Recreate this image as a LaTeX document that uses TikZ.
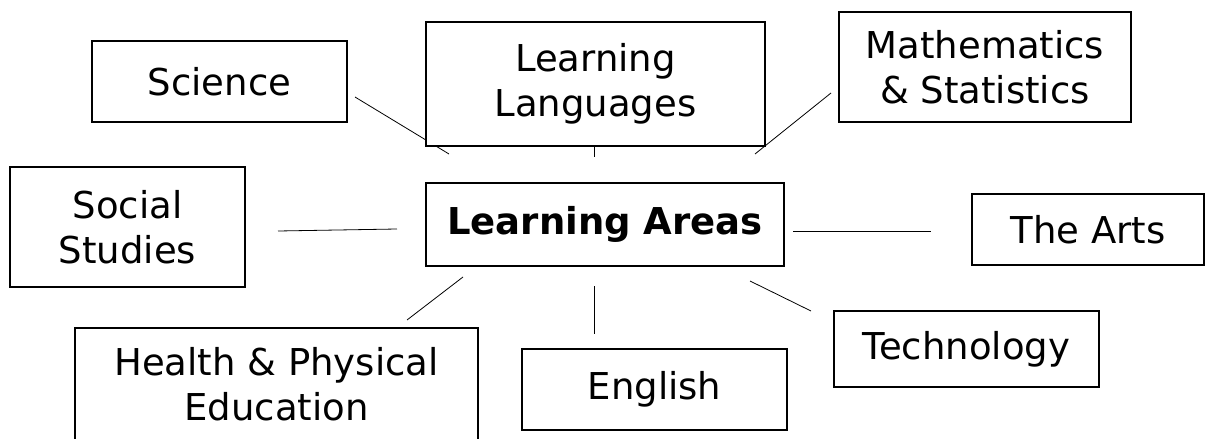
\documentclass[tikz,border=0pt]{standalone}
\usepackage{fontspec}
\setmainfont{DejaVu Sans}
\usetikzlibrary{backgrounds}
\tikzset{
  areabox/.style={ draw, fill=white, line width=1.1pt, inner sep=0pt, align=center,
    font=\fontsize{18.5}{22.5}\selectfont }
}
\tikzset{
  hubbox/.style={ areabox, font=\fontsize{18.5}{22.5}\selectfont\bfseries }
}
\tikzset{
  spoke/.style={ line width=1.1pt }
}
\begin{document}
\begin{tikzpicture}[x=0.5pt, y=-0.5pt]
      \useasboundingbox (0, 0) rectangle (1206, 439);

      \node[hubbox, minimum width=179pt, minimum height=41.5pt] (hub) at (605, 224.5) {Learning Areas};

      \node[areabox, minimum width=127.5pt, minimum height=40.5pt] (sci) at (219.5, 81.5) {Science};
      \node[areabox, minimum width=169.5pt, minimum height=62pt] (lang) at (595.5, 84) {Learning\\Languages};
      \node[areabox, minimum width=146pt, minimum height=55pt] (math) at (985, 67) {Mathematics\\\& Statistics};
      \node[areabox, minimum width=117.5pt, minimum height=60pt] (soc) at (127.5, 227) {Social\\Studies};
      \node[areabox, minimum width=116pt, minimum height=35.5pt] (arts) at (1088, 229.5) {The Arts};
      \node[areabox, minimum width=201.5pt, minimum height=56pt] (health) at (276.5, 384) {Health \& Physical\\Education};
      \node[areabox, minimum width=132.5pt, minimum height=40.5pt] (eng) at (654.5, 389.5) {English};
      \node[areabox, minimum width=132.5pt, minimum height=38pt] (tech) at (966.5, 349) {Technology};

      % free ends of the spokes
      \coordinate (sciA) at (355, 97);   \coordinate (sciB) at (449, 154);
      \coordinate (langA) at (594, 146); \coordinate (langB) at (594, 157);
      \coordinate (mathA) at (831, 93);  \coordinate (mathB) at (755, 154);
      \coordinate (socA) at (278, 231);  \coordinate (socB) at (397, 229);
      \coordinate (artsA) at (793, 231); \coordinate (artsB) at (931, 231);
      \coordinate (hlthA) at (463, 277); \coordinate (hlthB) at (407, 320);
      \coordinate (engA) at (594, 286);  \coordinate (engB) at (594, 334);
      \coordinate (techA) at (750, 281); \coordinate (techB) at (811, 311);

      \begin{scope}[on background layer, spoke]
        \draw (sciA) -- (sciB);
        \draw (langA) -- (langB);
        \draw (mathA) -- (mathB);
        \draw (socA) -- (socB);
        \draw (artsA) -- (artsB);
        \draw (hlthA) -- (hlthB);
        \draw (engA) -- (engB);
        \draw (techA) -- (techB);
      \end{scope}
    \end{tikzpicture}
\end{document}
